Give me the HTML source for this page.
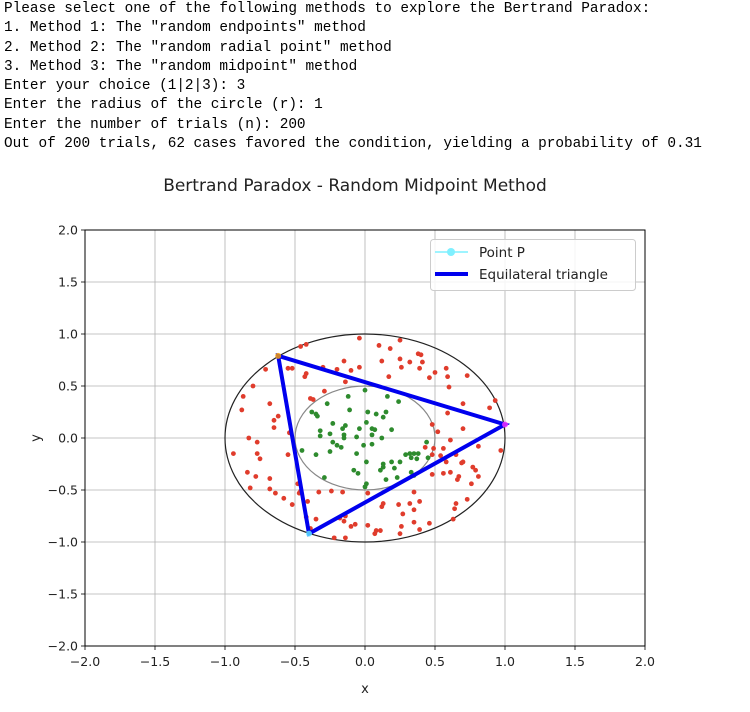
<!DOCTYPE html>
<html><head><meta charset="utf-8"><style>
body{margin:0;background:#fff;width:750px;height:712px;overflow:hidden;position:relative}
#console{position:absolute;left:4px;top:0;font-family:"Liberation Mono",monospace;font-size:14.4px;line-height:19.3px;color:#000;white-space:pre;letter-spacing:-0.02px}
svg{position:absolute;left:0;top:0}
text{font-family:"DejaVu Sans","Liberation Sans",sans-serif}
</style></head><body>
<div id="console">Please select one of the following methods to explore the Bertrand Paradox:
1. Method 1: The "random endpoints" method
2. Method 2: The "random radial point" method
3. Method 3: The "random midpoint" method
Enter your choice (1|2|3): 3
Enter the radius of the circle (r): 1
Enter the number of trials (n): 200
Out of 200 trials, 62 cases favored the condition, yielding a probability of 0.31</div>
<svg id="chart" width="750" height="712"></svg>
<script>
const xTicks=[-2.0,-1.5,-1.0,-0.5,0.0,0.5,1.0,1.5,2.0];
const yTicks=[-2.0,-1.5,-1.0,-0.5,0.0,0.5,1.0,1.5,2.0];
const tickLabels=["\u22122.0","\u22121.5","\u22121.0","\u22120.5","0.0","0.5","1.0","1.5","2.0"];
const greenX=[0,-0.12,0.16,0.24,-0.27,-0.38,-0.35,-0.34,0.02,0.08,0.15,0.13,0.01,-0.23,-0.14,-0.16,-0.04,0.05,0.07,0.19,-0.32,-0.32,-0.25,-0.15,-0.15,-0.06,0.05,0.12,0.44,-0.23,-0.20,-0.25,-0.17,-0.01,0.05,-0.45,-0.35,0.32,0.29,0.35,0.38,0.33,0.45,0.01,0.13,0.19,0.25,0.21,-0.08,-0.05,0.11,0.33,0.35,-0.29,0.15,0.23,0.01,0.00,0.13,0.37,-0.06,-0.11];
const greenY=[0.46,0.40,0.40,0.35,0.33,0.25,0.23,0.21,0.25,0.23,0.25,0.20,0.15,0.14,0.12,0.09,0.09,0.09,0.08,0.08,0.07,0.02,0.04,0.03,0.00,0.01,0.03,0.00,-0.04,-0.04,-0.07,-0.13,-0.09,-0.07,-0.06,-0.12,-0.16,-0.15,-0.16,-0.15,-0.15,-0.19,-0.19,-0.23,-0.25,-0.23,-0.23,-0.29,-0.31,-0.34,-0.31,-0.33,-0.36,-0.38,-0.40,-0.38,-0.44,-0.47,-0.28,-0.20,-0.15,0.27];
const redX=[-0.04,0.10,0.25,0.18,0.38,0.40,0.41,-0.46,-0.42,0.25,0.12,-0.15,0.32,0.26,0.39,-0.20,-0.04,-0.10,-0.30,-0.55,-0.52,-0.42,-0.43,-0.71,0.50,0.58,0.59,0.46,0.17,0.73,0.60,-0.14,-0.80,-0.29,-0.87,-0.68,-0.39,-0.37,0.93,0.70,0.89,-0.88,-0.62,-0.65,-0.65,0.59,0.48,0.70,0.52,-0.54,-0.83,-0.77,0.61,0.56,0.49,0.43,-0.94,-0.77,-0.75,-0.55,0.81,0.97,0.65,0.48,0.54,0.58,0.69,0.70,0.77,-0.84,-0.78,-0.68,0.48,0.56,0.61,0.67,0.66,0.76,0.81,0.79,-0.82,-0.68,-0.64,-0.58,-0.52,-0.48,-0.46,-0.47,-0.41,-0.33,-0.24,-0.16,0.02,0.35,0.24,0.32,0.39,0.35,0.27,0.35,0.13,0.12,0.65,0.73,0.64,0.63,-0.14,-0.18,-0.15,-0.07,-0.10,0.02,0.08,0.11,0.07,0.26,0.25,0.39,-0.22,-0.14,-0.39,-0.35,-0.42,0.46];
const redY=[0.96,0.89,0.94,0.86,0.81,0.80,0.73,0.88,0.90,0.76,0.74,0.74,0.73,0.68,0.67,0.66,0.68,0.65,0.68,0.67,0.67,0.62,0.59,0.66,0.63,0.67,0.59,0.58,0.59,0.60,0.49,0.54,0.50,0.45,0.40,0.33,0.38,0.37,0.36,0.33,0.29,0.27,0.21,0.17,0.10,0.24,0.13,0.09,0.06,0.05,0.00,-0.04,-0.02,-0.10,-0.10,-0.09,-0.15,-0.15,-0.20,-0.16,-0.08,-0.12,-0.16,-0.16,-0.17,-0.23,-0.24,-0.23,-0.28,-0.33,-0.37,-0.39,-0.35,-0.34,-0.33,-0.37,-0.40,-0.44,-0.37,-0.31,-0.48,-0.49,-0.53,-0.58,-0.64,-0.44,-0.51,-0.53,-0.61,-0.52,-0.51,-0.52,-0.53,-0.52,-0.64,-0.63,-0.61,-0.69,-0.73,-0.81,-0.63,-0.66,-0.63,-0.59,-0.68,-0.78,-0.75,-0.77,-0.80,-0.83,-0.85,-0.84,-0.89,-0.89,-0.92,-0.85,-0.92,-0.88,-0.96,-0.96,-0.87,-0.78,-0.76,-0.82];
const triX=[-0.62,1.0,-0.40];
const triY=[0.79,0.13,-0.92];
const radius=1;

const NS="http://www.w3.org/2000/svg";
const svg=document.getElementById('chart');
const L=85,R=645,T=230,B=646;
function sx(v){return L+(v+2)/4*(R-L);}
function sy(v){return B-(v+2)/4*(B-T);}
function mk(tag,attrs,parent){const e=document.createElementNS(NS,tag);for(const k in attrs)e.setAttribute(k,attrs[k]);(parent||svg).appendChild(e);return e;}

let t=mk('text',{x:355,y:191,'font-size':17,'text-anchor':'middle',fill:'#222'});t.textContent='Bertrand Paradox - Random Midpoint Method';



xTicks.forEach((v,i)=>{
  const g=mk('line',{x1:sx(v),x2:sx(v),y1:T,y2:B,stroke:'#b0b0b0','stroke-width':0.8});
  
  
  mk('line',{x1:sx(v),x2:sx(v),y1:B,y2:B+4,stroke:'#000','stroke-width':0.8});
  const tx=mk('text',{x:sx(v),y:B+20,'font-size':12.5,'text-anchor':'middle',fill:'#222'});tx.textContent=tickLabels[i];
  
  
});
yTicks.forEach((v,i)=>{
  const g=mk('line',{x1:L,x2:R,y1:sy(v),y2:sy(v),stroke:'#b0b0b0','stroke-width':0.8});
  
  
  mk('line',{x1:L-4,x2:L,y1:sy(v),y2:sy(v),stroke:'#000','stroke-width':0.8});
  const ty=mk('text',{x:L-7,y:sy(v)+4.5,'font-size':12.5,'text-anchor':'end',fill:'#222'});ty.textContent=tickLabels[i];
  
  
});
let xl=mk('text',{x:365,y:693,'font-size':13,'text-anchor':'middle',fill:'#222'});xl.textContent='x';


let yl=mk('text',{x:36,y:442,'font-size':13,'text-anchor':'middle',fill:'#222',transform:'rotate(-90 36 438)'});yl.textContent='y';



const rx=(sx(radius)-sx(0)), ry=(sy(0)-sy(radius));
let oc=mk('ellipse',{cx:sx(0),cy:sy(0),rx:rx,ry:ry,fill:'none',stroke:'#222','stroke-width':1.2});


let ic=mk('ellipse',{cx:sx(0),cy:sy(0),rx:rx/2,ry:ry/2,fill:'none',stroke:'#888','stroke-width':1.2});



redX.forEach((v,i)=>{
  const c=mk('circle',{cx:sx(v),cy:sy(redY[i]),r:2.4,fill:'#e03c2c'});
  
  
});
greenX.forEach((v,i)=>{
  const c=mk('circle',{cx:sx(v),cy:sy(greenY[i]),r:2.4,fill:'#2e8b2e'});
  
  
});
let pts=triX.map((v,i)=>sx(v)+','+sy(triY[i])).join(' ');
let tri=mk('polygon',{points:pts,fill:'none',stroke:'#0000ee','stroke-width':4,'stroke-linejoin':'miter'});


const vcol=['#ffa500','#ff33ff','#66eeff'];
triX.forEach((v,i)=>{
  const c=mk('circle',{cx:sx(v),cy:sy(triY[i]),r:3,fill:vcol[i],opacity:0.8});
  
  
});

let fr=mk('rect',{x:L,y:T,width:R-L,height:B-T,fill:'none',stroke:'#000','stroke-width':1});



const lg=mk('g',{});


mk('rect',{x:430.5,y:239.5,width:205,height:51,rx:3,fill:'#fff','fill-opacity':0.85,stroke:'#ccc'},lg);
mk('line',{x1:435,x2:468,y1:252,y2:252,stroke:'#7ff0ff','stroke-width':1.5},lg);
mk('circle',{cx:451,cy:252,r:4,fill:'#7ff0ff'},lg);
let l1=mk('text',{x:479,y:257,'font-size':13.5,fill:'#222'},lg);l1.textContent='Point P';


mk('line',{x1:435,x2:468,y1:274,y2:274,stroke:'#0000ee','stroke-width':4},lg);
let l2=mk('text',{x:479,y:279,'font-size':13.5,fill:'#222'},lg);l2.textContent='Equilateral triangle';


</script>
</body></html>
